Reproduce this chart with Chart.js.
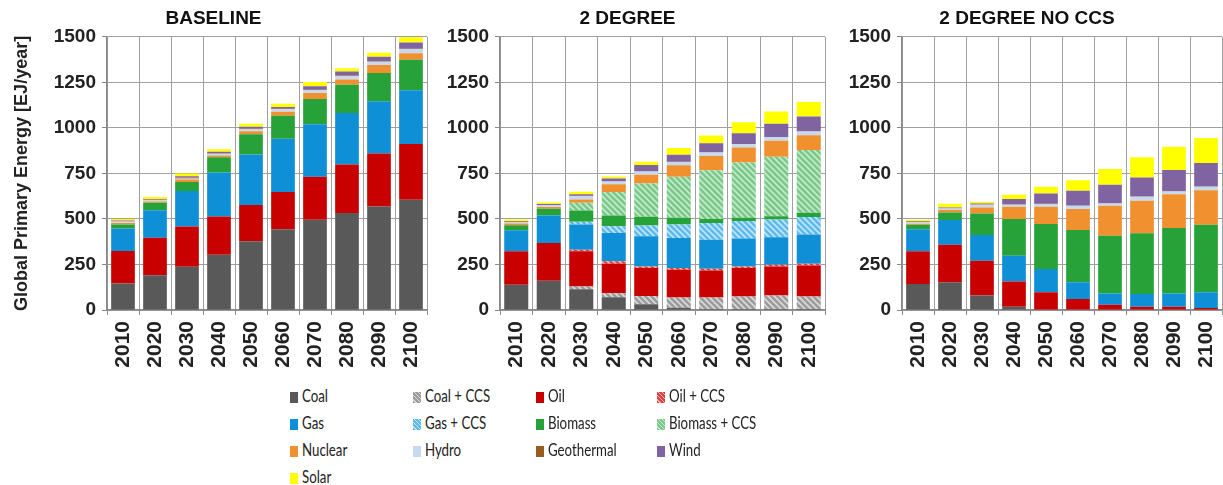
<!DOCTYPE html>
<html>
<head>
<meta charset="utf-8">
<script src="https://cdn.jsdelivr.net/npm/chart.js@4.4.0/dist/chart.umd.min.js"></script>
<style>
  body { margin: 0; background: #fff; width: 1223px; height: 485px; overflow: hidden; position: relative; }
  .panel { position: absolute; top: 0; }
  .item { position: absolute; height: 20px; line-height: 20px; font: 17px "Lato", sans-serif; color: #222; white-space: nowrap; }
  .sw { display: inline-block; width: 8px; height: 11px; margin-right: 4px; vertical-align: -1px; }
  .txt { display: inline-block; transform: scaleX(0.78); transform-origin: left center; }
</style>
</head>
<body>
<canvas id="c1" class="panel" width="494" height="382" style="left:0px"></canvas>
<canvas id="c2" class="panel" width="430" height="382" style="left:430px"></canvas>
<canvas id="c3" class="panel" width="416" height="382" style="left:832px"></canvas>
<div id="legend"></div>
<script>
const years = ["2010", "2020", "2030", "2040", "2050", "2060", "2070", "2080", "2090", "2100"];
const none = [0, 0, 0, 0, 0, 0, 0, 0, 0, 0];

// BASELINE (EJ/year)
const baseCoal    = [145, 191, 237, 303, 377, 443, 495, 532, 568, 605];
const baseOil     = [179, 206, 222, 211, 199, 205, 236, 267, 291, 307];
const baseGas     = [123, 151, 194, 241, 278, 292, 289, 283, 287, 294];
const baseBiomass = [23, 41, 50, 83, 111, 126, 138, 155, 155, 168];
const baseNuclear = [8, 7, 13, 10, 16, 23, 34, 28, 44, 36];
const baseHydro   = [8, 6, 6, 10, 11, 13, 14, 20, 18, 21];
const baseGeo     = [2, 2, 6, 3, 3, 3, 3, 3, 3, 3];
const baseWind    = [4, 4, 7, 8, 11, 9, 19, 22, 24, 35];
const baseSolar   = [7, 12, 14, 14, 16, 18, 24, 18, 22, 29];

// 2 DEGREE
const degCoal       = [138, 160, 114, 70, 31, 13, 6, 6, 6, 6];
const degCoalCcs    = [0, 0, 15, 22, 46, 55, 62, 68, 73, 68];
const degOil        = [184, 208, 193, 162, 153, 153, 149, 156, 160, 171];
const degOilCcs     = [0, 0, 9, 13, 9, 9, 9, 9, 9, 9];
const degGas        = [116, 151, 138, 156, 166, 166, 160, 153, 151, 160];
const degGasCcs     = [0, 0, 15, 37, 59, 73, 92, 96, 98, 96];
const degBiomass    = [27, 37, 62, 59, 48, 37, 22, 18, 18, 24];
const degBiomassCcs = [0, 0, 43, 129, 182, 226, 267, 304, 326, 344];
const degNuclear    = [10, 10, 18, 42, 48, 63, 79, 82, 88, 82];
const degHydro      = [8, 10, 19, 15, 18, 18, 19, 19, 19, 20];
const degGeo        = [1, 1, 1, 1, 1, 1, 1, 1, 1, 1];
const degWind       = [5, 5, 9, 16, 35, 39, 49, 59, 73, 82];
const degSolar      = [8, 8, 13, 11, 18, 37, 43, 60, 68, 79];

// 2 DEGREE NO CCS
const noCoal    = [143, 152, 79, 18, 0, 0, 0, 0, 0, 0];
const noOil     = [179, 206, 192, 139, 97, 60, 29, 18, 18, 11];
const noGas     = [122, 136, 141, 141, 128, 92, 62, 70, 73, 86];
const noBiomass = [24, 42, 118, 201, 247, 287, 317, 334, 359, 371];
const noNuclear = [6, 13, 33, 68, 95, 115, 164, 178, 186, 190];
const noHydro   = [8, 8, 15, 11, 15, 18, 13, 22, 15, 19];
const noGeo     = [1, 1, 1, 1, 1, 1, 1, 1, 1, 1];
const noWind    = [4, 5, 6, 30, 57, 82, 102, 105, 116, 129];
const noSolar   = [8, 20, 9, 24, 37, 58, 86, 110, 128, 137];

const seriesNames = ["Coal", "Coal + CCS", "Oil", "Oil + CCS", "Gas", "Gas + CCS", "Biomass",
  "Biomass + CCS", "Nuclear", "Hydro", "Geothermal", "Wind", "Solar"];

// hatched fill for the CCS series
function hatch(base, stripe) {
  const c = document.createElement("canvas");
  c.width = 6; c.height = 6;
  const g = c.getContext("2d");
  g.fillStyle = base;
  g.fillRect(0, 0, 6, 6);
  g.strokeStyle = stripe;
  g.lineWidth = 1.6;
  g.beginPath();
  g.moveTo(-1, -1); g.lineTo(7, 7);
  g.moveTo(-1, 5); g.lineTo(1, 7);
  g.moveTo(5, -1); g.lineTo(7, 1);
  g.stroke();
  return g.createPattern(c, "repeat");
}

const plain = ["#595959", null, "#c80000", null, "#0f8fd6", null, "#26a239", null, "#f0902e", "#c6d9ef", "#9a5b22", "#8064a2", "#ffff00"];
const hatchColors = {
  1: ["#9b9b9b", "#dadada"],
  3: ["#d94040", "#f5b5b5"],
  5: ["#5dbbec", "#c2e6f8"],
  7: ["#79c98a", "#c6eacb"]
};
const fills = plain.map((c, i) => c || hatch(hatchColors[i][0], hatchColors[i][1]));

// canvas is wider on the right so that the title sits where it does in the figure
function makeChart(id, title, data, opts) {
  const datasets = seriesNames.map((name, i) => ({
    label: name,
    data: data[i],
    backgroundColor: fills[i],
    borderWidth: 0,
    categoryPercentage: 0.74,
    barPercentage: 1.0
  }));
  return new Chart(document.getElementById(id), {
    type: "bar",
    data: { labels: years, datasets },
    options: {
      responsive: false,
      animation: false,
      layout: { padding: { left: 0, right: opts.padRight, top: 0, bottom: 0 } },
      plugins: {
        legend: { display: false },
        tooltip: { enabled: false },
        title: {
          display: true,
          text: title,
          color: "#111",
          font: { family: "Liberation Sans", size: 19, weight: "bold" },
          padding: { top: 7, bottom: 7 }
        }
      },
      scales: {
        x: {
          stacked: true,
          afterFit: s => { s.height = 72; },
          grid: { color: "#a0a0a0", borderDash: [2, 2], tickLength: 5, tickColor: "#888", tickBorderDash: [] },
          border: { color: "#888", width: 1.5 },
          ticks: {
            autoSkip: false, minRotation: 90, maxRotation: 90, padding: 6,
            color: "#222", font: { family: "Liberation Sans", size: 21, weight: "bold" }
          }
        },
        y: {
          stacked: true,
          min: 0, max: 1500,
          afterFit: s => { s.width = opts.yWidth; },
          grid: { color: "#a0a0a0", borderDash: [2, 2], tickLength: 5, tickColor: "#888", tickBorderDash: [] },
          border: { color: "#888", width: 1.5 },
          ticks: {
            stepSize: 250, padding: 6,
            callback: v => String(v),
            color: "#222", font: { family: "Liberation Sans", size: 19, weight: "bold" }
          },
          title: {
            display: !!opts.yTitle,
            text: opts.yTitle || "",
            color: "#222",
            font: { family: "Liberation Sans", size: 18, weight: "bold" },
            padding: { top: 11, bottom: 0 }
          }
        }
      }
    }
  });
}

makeChart("c1", "BASELINE",
  [baseCoal, none, baseOil, none, baseGas, none, baseBiomass, none, baseNuclear, baseHydro, baseGeo, baseWind, baseSolar],
  { padRight: 67, yWidth: 107, yTitle: "Global Primary Energy [EJ/year]" });

makeChart("c2", "2 DEGREE",
  [degCoal, degCoalCcs, degOil, degOilCcs, degGas, degGasCcs, degBiomass, degBiomassCcs, degNuclear, degHydro, degGeo, degWind, degSolar],
  { padRight: 35, yWidth: 70 });

makeChart("c3", "2 DEGREE NO CCS",
  [noCoal, none, noOil, none, noGas, none, noBiomass, none, noNuclear, noHydro, noGeo, noWind, noSolar],
  { padRight: 26, yWidth: 70 });

// shared legend, 4 columns
const legendOrder = ["Coal", "Coal + CCS", "Oil", "Oil + CCS", "Gas", "Gas + CCS", "Biomass", "Biomass + CCS",
  "Nuclear", "Hydro", "Geothermal", "Wind", "Solar"];
const colX = [290, 413, 536, 657];
const rowY = [385, 412, 439, 466];
const legend = document.getElementById("legend");
legendOrder.forEach((name, k) => {
  const i = seriesNames.indexOf(name);
  const el = document.createElement("div");
  el.className = "item";
  el.style.left = colX[k % 4] + "px";
  el.style.top = rowY[Math.floor(k / 4)] + "px";
  const sw = document.createElement("span");
  sw.className = "sw";
  if (plain[i]) {
    sw.style.background = plain[i];
  } else {
    const hc = hatchColors[i];
    sw.style.background = `repeating-linear-gradient(45deg, ${hc[0]} 0 2px, ${hc[1]} 2px 3px)`;
  }
  const txt = document.createElement("span");
  txt.className = "txt";
  txt.textContent = name;
  el.appendChild(sw);
  el.appendChild(txt);
  legend.appendChild(el);
});
</script>
</body>
</html>
